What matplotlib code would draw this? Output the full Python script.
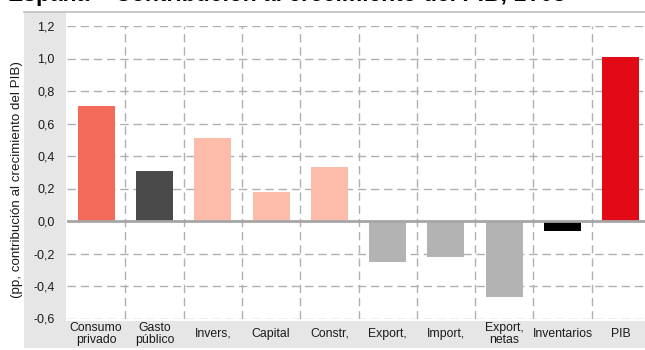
import matplotlib
matplotlib.use("Agg")
import matplotlib.pyplot as plt
from matplotlib.patches import Rectangle
from matplotlib.lines import Line2D
from matplotlib.ticker import FuncFormatter
from matplotlib.transforms import blended_transform_factory

plt.rcParams['font.family'] = ['Liberation Sans', 'DejaVu Sans']

# Data
categories = ["Consumo\nprivado", "Gasto\npúblico", "Invers,", "Capital", "Constr,",
              "Export,", "Import,", "Export,\nnetas", "Inventarios", "PIB"]
values = [0.71, 0.31, 0.51, 0.18, 0.33, -0.25, -0.22, -0.47, -0.06, 1.01]
colors = ["#f36a5a", "#4a4a4a", "#fdbba9", "#fdbba9", "#fdbba9",
          "#b3b3b3", "#b3b3b3", "#b3b3b3", "#000000", "#e30a18"]
y_ticks = [-0.6, -0.4, -0.2, 0.0, 0.2, 0.4, 0.6, 0.8, 1.0, 1.2]
title = "España – Contribución al crecimiento del PIB, 1T08"
y_label = "(pp, contribución al crecimiento del PIB)"

W, H = 645, 350
fig = plt.figure(figsize=(W / 100, H / 100), dpi=100)


def fx(px):
    return px / W


def fy(py):
    return 1 - py / H


panel = "#e6e6e6"
# left label panel and bottom label band, kept behind the axes
fig.patches.append(Rectangle((fx(24), fy(348)), fx(66) - fx(24), fy(12) - fy(348),
                             transform=fig.transFigure, facecolor=panel,
                             edgecolor="none", zorder=-2))
fig.patches.append(Rectangle((fx(66), fy(348)), fx(645) - fx(66), fy(321) - fy(348),
                             transform=fig.transFigure, facecolor=panel,
                             edgecolor="none", zorder=-2))
# rule under the heading
fig.lines.append(Line2D([fx(24), 1], [fy(11.5), fy(11.5)], transform=fig.transFigure,
                        color="#c4c4c4", linewidth=1.3, zorder=-1))

fig.text(fx(8), fy(1.5), title, fontsize=16.5, fontweight="bold",
         ha="left", va="baseline", color="#000000")

ax_left, ax_top, ax_bottom = 67, 26, 318.5
ax = fig.add_axes([fx(ax_left), fy(ax_bottom), 583 / W, fy(ax_top) - fy(ax_bottom)])
ax.set_facecolor("none")
for s in ax.spines.values():
    s.set_visible(False)

x = range(len(categories))
ax.bar(x, values, width=0.635, color=colors, zorder=2)
ax.set_xlim(-0.5, len(categories) - 0.5)
ax.set_ylim(y_ticks[0], y_ticks[-1])

grid_kw = dict(color="#b0b0b0", linewidth=1.0, dashes=(6, 3.5), zorder=1)
for t in y_ticks:
    if t != 0:
        ax.axhline(t, **grid_kw)
for i in range(len(categories) - 1):
    ax.axvline(i + 0.5, **grid_kw)
ax.axhline(0, color="#a6a6a6", linewidth=2.0, zorder=3)

ax.set_yticks(y_ticks)
ax.yaxis.set_major_formatter(FuncFormatter(lambda v, p: f"{v:.1f}".replace(".", ",")))
ax.tick_params(axis="y", length=0, pad=9, labelsize=9, labelcolor="#1a1a1a")
ax.set_xticks([])

# category labels sit in the bottom band
label_tr = blended_transform_factory(ax.transData, fig.transFigure)
for i, lab in enumerate(categories):
    ax.text(i, fy(334), lab, transform=label_tr, ha="center", va="center",
            fontsize=8.8, linespacing=0.95, color="#1a1a1a", clip_on=False)

fig.text(fx(17), fy(180), y_label, rotation=90, ha="center", va="center",
         fontsize=9.6, color="#1a1a1a")

fig.savefig("out.png", dpi=100)
